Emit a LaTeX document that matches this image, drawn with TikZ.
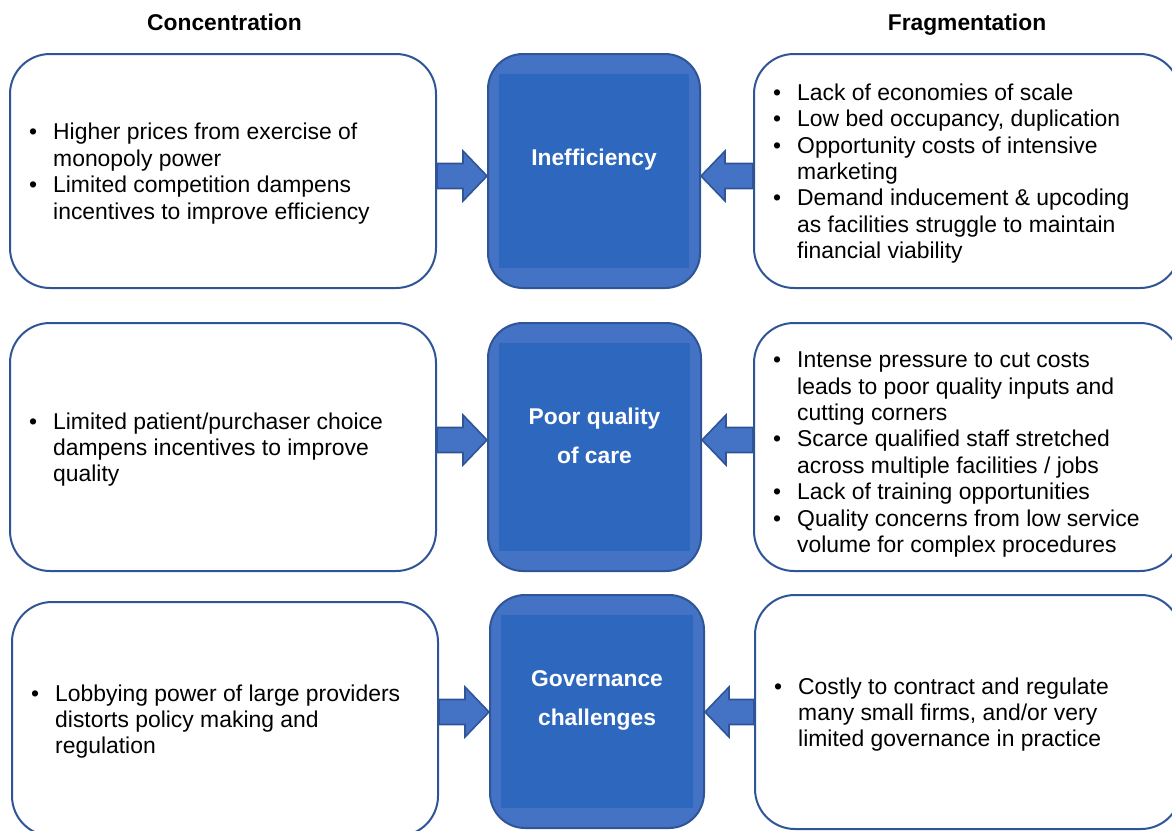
\documentclass[tikz,border=0pt]{standalone}
\usepackage{fontspec}
\setmainfont{Liberation Sans}
\usetikzlibrary{calc}
\definecolor{edgeblue}{HTML}{2F5597}
\definecolor{accent}{HTML}{4472C4}
\definecolor{deepblue}{HTML}{2E67BE}
% bullet and continuation indent for the list texts
\newcommand\bul{\makebox[24pt][l]{•}}
\newcommand\cont{\makebox[24pt]{}}
% block arrow from one anchor to another at a given height
\newcommand\fatarrow[3]{%
  \filldraw[fat] let \p1=(#1), \p2=(#2), \p3=(0,#3), \n1={(\x2>\x1) ? 1 : -1} in
    (\x1,\y3-12.5pt) -- ({\x2-\n1*24pt},\y3-12.5pt) -- ({\x2-\n1*24pt},\y3-25pt)
    -- (\x2,\y3) -- ({\x2-\n1*24pt},\y3+25pt) -- ({\x2-\n1*24pt},\y3+12.5pt)
    -- (\x1,\y3+12.5pt) -- cycle;}
\begin{document}
\begin{tikzpicture}[x=1pt,y=-1pt,
  sidebox/.style={draw=edgeblue, line width=2pt, fill=white, rounded corners=40pt,
    minimum width=426pt, inner sep=0pt},
  listtext/.style={font=\fontsize{22.9}{26.4}\selectfont, align=left, anchor=west, inner sep=0pt},
  hub/.style={draw=edgeblue, line width=2pt, fill=accent, rounded corners=35pt, inner sep=0pt,
    path picture={\fill[deepblue, sharp corners]
      ($(path picture bounding box.north west)+(11pt,-20pt)$) rectangle
      ($(path picture bounding box.south east)+(-11pt,20pt)$);}},
  hubtext/.style={font=\fontsize{22.8}{39}\selectfont\bfseries, text=white, align=center, inner sep=0pt},
  head/.style={font=\fontsize{22.8}{26}\selectfont\bfseries, anchor=base, inner sep=0pt},
  fat/.style={fill=accent, draw=edgeblue, line width=1.6pt, line join=miter}
]
\useasboundingbox (0,0) rectangle (1172,830);
\clip (0,0) rectangle (1172,830);

% column headings
\node[head] (hc) at (224.5,30) {Concentration};
\node[head] (hf) at (967,30) {Fragmentation};

% left column: concentration
\node[sidebox, minimum height=234pt] (L1) at (223,171) {};
\node[sidebox, minimum height=248pt] (L2) at (223,447) {};
\node[sidebox, minimum height=234pt] (L3) at (225,719) {};

% middle column: outcomes
\node[hub, minimum width=212pt, minimum height=234pt] (C1) at (594,171) {};
\node[hub, minimum width=213pt, minimum height=248pt] (C2) at (594.5,447) {};
\node[hub, minimum width=214pt, minimum height=233pt] (C3) at (597,711.5) {};

% right column: fragmentation
\node[sidebox, minimum height=234pt] (R1) at (967,171) {};
\node[sidebox, minimum height=248pt] (R2) at (967,447) {};
\node[sidebox, minimum height=234pt] (R3) at (968,712) {};

% list texts
\node[listtext] (L1t) at ($(L1.west)+(20,2.5)$) {%
  \bul Higher prices from exercise of\\
  \cont monopoly power\\
  \bul Limited competition dampens\\
  \cont incentives to improve efficiency};
\node[listtext] (L2t) at ($(L2.west)+(20,2.5)$) {%
  \bul Limited patient/purchaser choice\\
  \cont dampens incentives to improve\\
  \cont quality};
\node[listtext] (L3t) at ($(L3.west)+(20,2.5)$) {%
  \bul Lobbying power of large providers\\
  \cont distorts policy making and\\
  \cont regulation};
\node[listtext] (R1t) at ($(R1.west)+(20,2.5)$) {%
  \bul Lack of economies of scale\\
  \bul Low bed occupancy, duplication\\
  \bul Opportunity costs of intensive\\
  \cont marketing\\
  \bul Demand inducement \& upcoding\\
  \cont as facilities struggle to maintain\\
  \cont financial viability};
\node[listtext] (R2t) at ($(R2.west)+(20,7.5)$) {%
  \bul Intense pressure to cut costs\\
  \cont leads to poor quality inputs and\\
  \cont cutting corners\\
  \bul Scarce qualified staff stretched\\
  \cont across multiple facilities / jobs\\
  \bul Lack of training opportunities\\
  \bul Quality concerns from low service\\
  \cont volume for complex procedures};
\node[listtext] (R3t) at ($(R3.west)+(20,2.5)$) {%
  \bul Costly to contract and regulate\\
  \cont many small firms, and/or very\\
  \cont limited governance in practice};

% outcome labels
\node[hubtext] (C1t) at ($(C1.center)+(0,-11)$) {Inefficiency};
\node[hubtext] (C2t) at ($(C2.center)+(0,-11)$) {Poor quality\\of care};
\node[hubtext] (C3t) at ($(C3.center)+(0,-11)$) {Governance\\challenges};

% block arrows into the outcomes
\fatarrow{L1.east}{C1.west}{176}
\fatarrow{R1.west}{C1.east}{176}
\fatarrow{L2.east}{C2.west}{440}
\fatarrow{R2.west}{C2.east}{440}
\fatarrow{L3.east}{C3.west}{712}
\fatarrow{R3.west}{C3.east}{712}
\end{tikzpicture}
\end{document}
